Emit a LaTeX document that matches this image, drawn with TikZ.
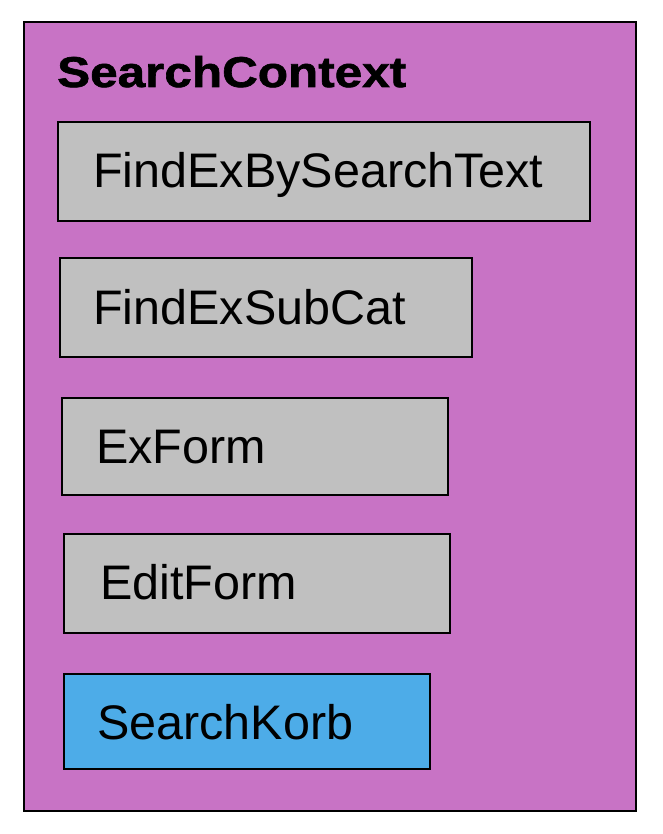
\documentclass[tikz,border=0pt]{standalone}
\usepackage{fontspec}
\setmainfont{Liberation Sans}
\newfontfamily\titlefont[FakeStretch=1.15,FakeBold=1.5]{Liberation Sans}
\definecolor{ctxmag}{HTML}{C873C5}
\definecolor{boxgray}{HTML}{C0C0C0}
\definecolor{boxblue}{HTML}{4DACE8}
\begin{document}
\begin{tikzpicture}[x=1pt,y=-1pt,
  frame/.style={draw=black,line width=1.8pt},
  comp/.style={frame,fill=boxgray},
  lbl/.style={anchor=base west,inner sep=0pt,font=\fontsize{48.5}{56}\selectfont}]
\useasboundingbox (0,0) rectangle (662,834);
\filldraw[frame,fill=ctxmag] (24,22) rectangle (636,811);
\node[anchor=base west,inner sep=0pt,font=\titlefont\bfseries\fontsize{43}{50}\selectfont] (title) at (57,87) {SearchContext};
\draw[comp] (58,122) rectangle (590,221);
\node[lbl] (a) at (93,188) {FindExBySearchText};
\draw[comp] (60,258) rectangle (472,357);
\node[lbl] (b) at (93,324) {FindExSubCat};
\draw[comp] (62,398) rectangle (448,495);
\node[lbl] (c) at (96,463) {ExForm};
\draw[comp] (64,534) rectangle (450,633);
\node[lbl] (d) at (100,599) {EditForm};
\draw[frame,fill=boxblue] (64,674) rectangle (430,769);
\node[lbl] (e) at (97,739) {SearchKorb};
\end{tikzpicture}
\end{document}
